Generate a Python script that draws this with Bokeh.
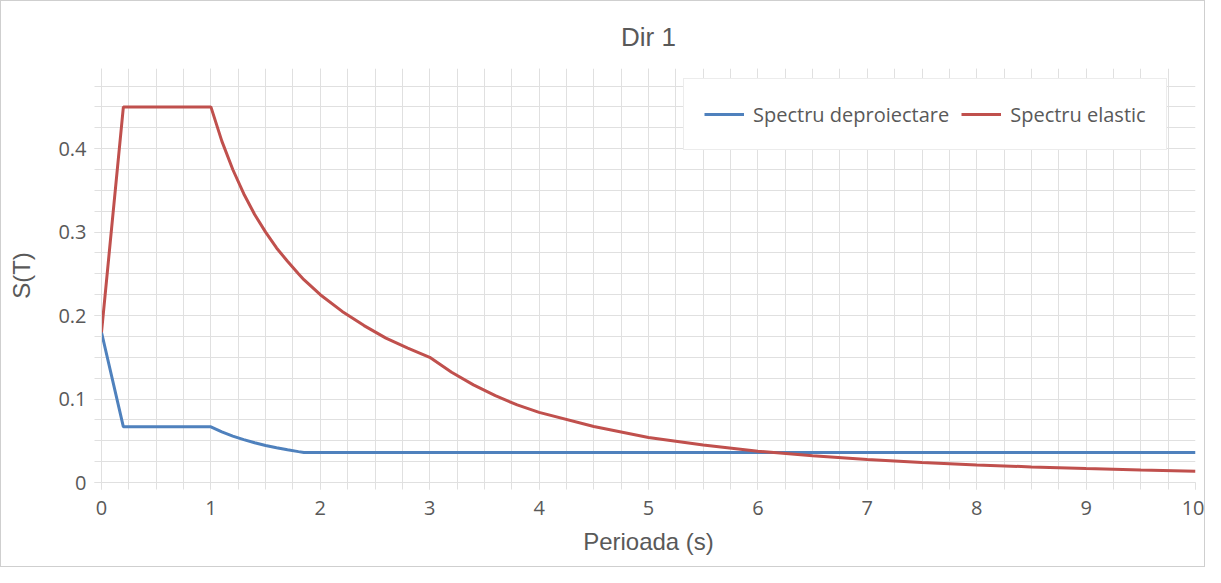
from bokeh.plotting import figure
from bokeh.models import FixedTicker, Range1d, Legend, LegendItem, Title
from bokeh.embed import file_html
from bokeh.resources import INLINE

# Period values (s)
T = [0.0, 0.2, 1.0, 1.1, 1.2, 1.3, 1.4, 1.5, 1.6, 1.7, 1.8, 1.85, 1.9, 2.0,
     2.2, 2.4, 2.6, 2.8, 3.0, 3.2, 3.4, 3.6, 3.8, 4.0, 4.5, 5.0, 5.5, 6.0,
     6.5, 7.0, 7.5, 8.0, 8.5, 9.0, 9.5, 10.0]

# Elastic spectrum values
spectru_elastic = [0.180, 0.450, 0.450, 0.409, 0.375, 0.346, 0.321, 0.300, 0.281,
                   0.265, 0.250, 0.243, 0.237, 0.225, 0.205, 0.188, 0.173, 0.161,
                   0.150, 0.132, 0.117, 0.104, 0.093, 0.084, 0.067, 0.054, 0.045,
                   0.0375, 0.032, 0.0276, 0.024, 0.021, 0.0187, 0.0167, 0.015, 0.0135]

# Design spectrum values
spectru_proiectare = [0.180, 0.0667, 0.0667, 0.0606, 0.0556, 0.0513, 0.0476, 0.0444,
                      0.0417, 0.0392, 0.037, 0.036, 0.036, 0.036, 0.036, 0.036, 0.036,
                      0.036, 0.036, 0.036, 0.036, 0.036, 0.036, 0.036, 0.036, 0.036,
                      0.036, 0.036, 0.036, 0.036, 0.036, 0.036, 0.036, 0.036, 0.036, 0.036]

x_ticks = [0, 1, 2, 3, 4, 5, 6, 7, 8, 9, 10]
y_ticks = [0, 0.1, 0.2, 0.3, 0.4]
x_minor = [i * 0.25 for i in range(41)]
y_minor = [i * 0.025 for i in range(20)]

GRID = "#e0e0e0"
TXT = "#595959"

p = figure(width=1205, height=567, output_backend="svg", toolbar_location=None,
           x_range=Range1d(0, 10), y_range=Range1d(0, 0.496),
           min_border_left=100, min_border_right=11, min_border_top=67,
           min_border_bottom=86, outline_line_color=None)
p.styles = {"border": "1px solid #cfcfcf"}

p.add_layout(Title(text="Dir 1", align="center", text_font="Liberation Sans",
                   text_font_size="26px", text_color=TXT, text_font_style="normal",
                   standoff=33), "above")

for ax, ticks, minor in ((p.xaxis[0], x_ticks, x_minor), (p.yaxis[0], y_ticks, y_minor)):
    ax.ticker = FixedTicker(ticks=ticks, minor_ticks=minor)
    ax.axis_line_color = GRID
    ax.major_tick_line_color = GRID
    ax.minor_tick_line_color = GRID
    ax.major_tick_in = 0
    ax.minor_tick_in = 0
    ax.major_tick_out = 7
    ax.minor_tick_out = 7
    ax.major_label_text_color = TXT
    ax.major_label_text_font = "Open Sans"
    ax.major_label_text_font_size = "20px"
    ax.axis_label_text_color = TXT
    ax.axis_label_text_font = "Liberation Sans"
    ax.axis_label_text_font_size = "24px"
    ax.axis_label_text_font_style = "normal"

p.xaxis.axis_label = "Perioada (s)"
p.yaxis.axis_label = "S(T)"
p.xaxis.major_label_standoff = 11
p.xaxis.axis_label_standoff = 10
p.yaxis.major_label_standoff = 8
p.yaxis.axis_label_standoff = 20
p.yaxis.formatter.use_scientific = False

for g in (p.xgrid[0], p.ygrid[0]):
    g.grid_line_color = GRID
    g.minor_grid_line_color = GRID
    g.grid_line_width = 1
    g.minor_grid_line_width = 1

r_blue = p.line(T, spectru_proiectare, line_color="#4f81bd", line_width=3)
r_red = p.line(T, spectru_elastic, line_color="#c0504d", line_width=3)

legend = Legend(items=[LegendItem(label="Spectru deproiectare", renderers=[r_blue]),
                       LegendItem(label="Spectru elastic", renderers=[r_red])],
                orientation="horizontal", location=(582, 332),
                border_line_color="#d9d9d9", background_fill_color="white",
                background_fill_alpha=1.0, padding=20, margin=0, spacing=12,
                glyph_width=40, glyph_height=30, label_height=30, label_standoff=9,
                label_text_font="Open Sans", label_text_font_size="20px",
                label_text_color=TXT)
p.add_layout(legend, "center")

open("out.html", "w").write(file_html(p, INLINE))
